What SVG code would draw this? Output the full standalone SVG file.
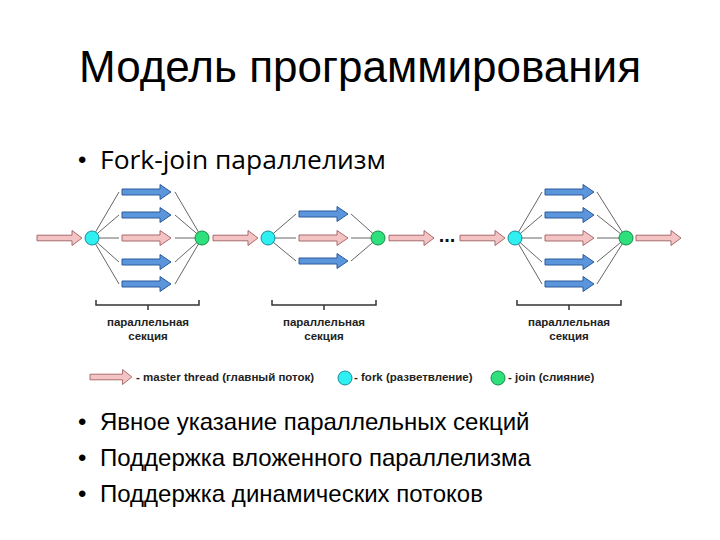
<svg xmlns="http://www.w3.org/2000/svg" xmlns:xlink="http://www.w3.org/1999/xlink" width="720" height="540" viewBox="0 0 720 540">
<style>
.title{font-family:"Liberation Sans",Arial,sans-serif;font-size:44px;fill:#000}
.bul{font-family:"Liberation Sans",Arial,sans-serif;font-size:24px;fill:#000}
.bulc{font-family:"Open Sans","Noto Sans",sans-serif;font-size:26px;fill:#000}
.lab{font-family:"Liberation Sans",Arial,sans-serif;font-size:11.5px;font-weight:bold;fill:#222}
.dots{font-family:"Liberation Sans",Arial,sans-serif;font-size:20px;font-weight:bold;fill:#111}
.pink{fill:#f4c4c4;stroke:#a86a6a;stroke-width:1}
.blue{fill:#5b95dc;stroke:#2c5a9c;stroke-width:1}
.fork{fill:#2ef0f0;stroke:#1c8c9c;stroke-width:1}
.join{fill:#2ee07c;stroke:#168c44;stroke-width:1}
.ln{stroke:#666;stroke-width:1;fill:none}
.br{stroke:#333;stroke-width:1.5;fill:none}
</style>
<defs>
<path id="a45" d="M0,-2.8 H35 V-7.5 L45,0 L35,7.5 V2.8 H0 Z"/>
<path id="a49" d="M0,-3 H38 V-7.5 L49,0 L38,7.5 V3 H0 Z"/>
</defs>
<text class="title" x="360" y="82" text-anchor="middle">Модель программирования</text>
<g id="bullet1">
<text class="bul" x="78" y="168">•</text>
<text class="bulc" x="100" y="169" textLength="286" lengthAdjust="spacingAndGlyphs">Fork-join параллелизм</text>
</g>
<g id="connectors">
<path class="ln" d="M92,238 L119,192 M92,238 L119,215 M92,238 L119,238 M92,238 L119,262 M92,238 L119,284"/>
<path class="ln" d="M175,192 L202,238 M175,215 L202,238 M175,238 L202,238 M175,262 L202,238 M175,284 L202,238"/>
<path class="ln" d="M268,238 L296,214 M268,238 L296,238 M268,238 L296,261"/>
<path class="ln" d="M351,214 L378,238 M351,238 L378,238 M351,261 L378,238"/>
<path class="ln" d="M515,238 L542,192 M515,238 L542,215 M515,238 L542,238 M515,238 L542,262 M515,238 L542,284"/>
<path class="ln" d="M597,192 L626,238 M597,215 L626,238 M597,238 L626,238 M597,262 L626,238 M597,284 L626,238"/>
<use href="#a45" class="pink" x="37" y="238"/>
<use href="#a45" class="pink" x="213" y="238"/>
<use href="#a45" class="pink" x="389" y="238"/>
<use href="#a45" class="pink" x="460" y="238"/>
<use href="#a45" class="pink" x="636" y="238"/>
</g>
<g id="section1">
<use href="#a49" class="blue" x="122" y="192"/>
<use href="#a49" class="blue" x="122" y="215"/>
<use href="#a49" class="pink" x="122" y="238"/>
<use href="#a49" class="blue" x="122" y="262"/>
<use href="#a49" class="blue" x="122" y="284"/>
</g>
<g id="section2">
<use href="#a49" class="blue" x="299" y="214"/>
<use href="#a49" class="pink" x="299" y="238"/>
<use href="#a49" class="blue" x="299" y="261"/>
</g>
<g id="section3">
<use href="#a49" class="blue" x="545" y="192"/>
<use href="#a49" class="blue" x="545" y="215"/>
<use href="#a49" class="pink" x="545" y="238"/>
<use href="#a49" class="blue" x="545" y="262"/>
<use href="#a49" class="blue" x="545" y="284"/>
</g>
<g id="fork1"><circle class="fork" cx="92" cy="238" r="7"/></g>
<g id="join1"><circle class="join" cx="202" cy="238" r="7"/></g>
<g id="fork2"><circle class="fork" cx="268" cy="238" r="7"/></g>
<g id="join2"><circle class="join" cx="378" cy="238" r="7"/></g>
<g id="fork3"><circle class="fork" cx="515" cy="238" r="7"/></g>
<g id="join3"><circle class="join" cx="626" cy="238" r="7"/></g>
<g id="dots"><text class="dots" x="447" y="242" text-anchor="middle">...</text></g>
<g id="bracket1">
<path class="br" d="M96,300 V305 H199 V300 M148,305 V310"/>
<text class="lab" x="148" y="326" text-anchor="middle">параллельная</text>
<text class="lab" x="148" y="340" text-anchor="middle">секция</text>
</g>
<g id="bracket2">
<path class="br" d="M272,300 V305 H376 V300 M324,305 V310"/>
<text class="lab" x="324" y="326" text-anchor="middle">параллельная</text>
<text class="lab" x="324" y="340" text-anchor="middle">секция</text>
</g>
<g id="bracket3">
<path class="br" d="M517,300 V305 H621 V300 M569,305 V310"/>
<text class="lab" x="569" y="326" text-anchor="middle">параллельная</text>
<text class="lab" x="569" y="340" text-anchor="middle">секция</text>
</g>
<g id="legend">
<use href="#a45" class="pink" x="90" y="377" transform="translate(90 377) scale(0.93 1) translate(-90 -377)"/>
<text class="lab" x="136" y="381">- master thread (главный поток)</text>
<circle class="fork" cx="345" cy="378" r="7"/>
<text class="lab" x="354" y="381">- fork (разветвление)</text>
<circle class="join" cx="498" cy="378" r="7"/>
<text class="lab" x="508" y="381">- join (слияние)</text>
</g>
<g id="bullets2">
<text class="bul" x="78" y="430">•</text>
<text class="bul" x="100" y="430">Явное указание параллельных секций</text>
<text class="bul" x="78" y="466">•</text>
<text class="bul" x="100" y="466">Поддержка вложенного параллелизма</text>
<text class="bul" x="78" y="502">•</text>
<text class="bul" x="100" y="502">Поддержка динамических потоков</text>
</g>
</svg>
